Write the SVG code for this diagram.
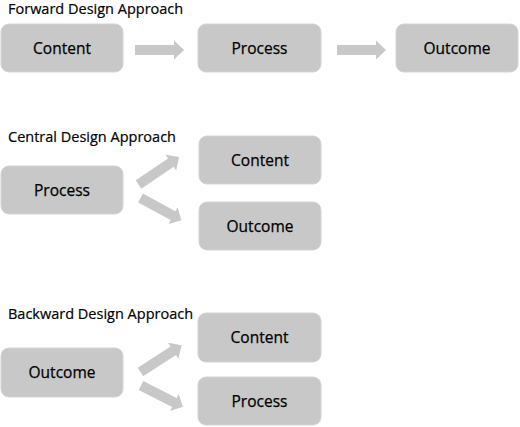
<svg xmlns="http://www.w3.org/2000/svg" xmlns:xlink="http://www.w3.org/1999/xlink" width="520" height="427" viewBox="0 0 520 427">
<style>
.box{fill:#c8c8c8;stroke:#d4d4d4;stroke-width:1}
.lbl{font-family:"Open Sans","Liberation Sans",sans-serif;font-size:15.5px;fill:#000;stroke:#000;stroke-width:0.25;text-anchor:middle}
.title{font-family:"Open Sans","Liberation Sans",sans-serif;font-size:14.5px;fill:#000;stroke:#000;stroke-width:0.2}
.arr{fill:#c8c8c8}
</style>
<defs>
<path id="arrow" class="arr" d="M0,-5 H39 V-9.5 L49,0 L39,9.5 V5 H0 Z"/>
</defs>
<rect width="520" height="427" fill="#fff"/>
<text class="title" x="8" y="14">Forward Design Approach</text>
<text class="title" x="8" y="142">Central Design Approach</text>
<text class="title" x="8" y="319">Backward Design Approach</text>
<g id="f-content"><rect class="box" x="1" y="24" width="122" height="48" rx="8"/><text class="lbl" x="62" y="54">Content</text></g>
<g id="f-process"><rect class="box" x="198" y="24" width="123" height="48" rx="8"/><text class="lbl" x="259.5" y="54">Process</text></g>
<g id="f-outcome"><rect class="box" x="396" y="24" width="122" height="48" rx="8"/><text class="lbl" x="457" y="54">Outcome</text></g>
<g id="c-process"><rect class="box" x="1" y="166" width="122" height="48" rx="8"/><text class="lbl" x="62" y="196">Process</text></g>
<g id="c-content"><rect class="box" x="199" y="136" width="122" height="48" rx="8"/><text class="lbl" x="260" y="166">Content</text></g>
<g id="c-outcome"><rect class="box" x="199" y="202" width="122" height="48" rx="8"/><text class="lbl" x="260" y="232">Outcome</text></g>
<g id="b-outcome"><rect class="box" x="1" y="348" width="122" height="49" rx="8"/><text class="lbl" x="62" y="378">Outcome</text></g>
<g id="b-content"><rect class="box" x="198" y="313" width="123" height="49" rx="8"/><text class="lbl" x="259.5" y="343">Content</text></g>
<g id="b-process"><rect class="box" x="198" y="377" width="123" height="48" rx="8"/><text class="lbl" x="259.5" y="407">Process</text></g>
<g id="connectors">
<use xlink:href="#arrow" transform="translate(135,50)"/>
<use xlink:href="#arrow" transform="translate(337,50)"/>
<use xlink:href="#arrow" transform="translate(138.5,184.5) rotate(-34)"/>
<use xlink:href="#arrow" transform="translate(140.5,198) rotate(28.5) scale(0.95,1)"/>
<use xlink:href="#arrow" transform="translate(140.5,372) rotate(-33)"/>
<use xlink:href="#arrow" transform="translate(141,385.5) rotate(27) scale(0.96,1)"/>
</g>
</svg>
